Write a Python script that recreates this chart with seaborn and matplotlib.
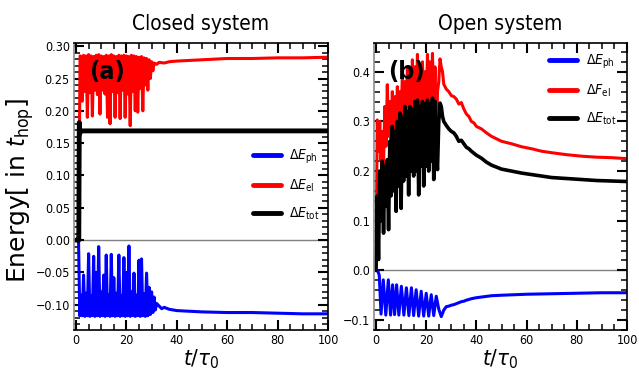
import numpy as np
import matplotlib
matplotlib.use("Agg")
import matplotlib.pyplot as plt
from matplotlib.ticker import MultipleLocator
import seaborn as sns

# ---- closed system (a) ----
closed_ph_t = [0.0, 1.0, 1.5, 2.0, 2.5, 3.0, 3.5, 4.0, 4.5, 5.0, 5.5, 6.0, 6.5, 7.0, 7.5, 8.0, 8.5,
               9.0, 9.5, 10.0, 10.5, 11.0, 11.5, 12.0, 12.5, 13.0, 13.5, 14.0, 14.5, 15.0, 15.5,
               16.0, 16.5, 17.0, 17.5, 18.0, 18.5, 19.0, 19.5, 20.0, 20.5, 21.0, 21.5, 22.0, 22.5,
               23.0, 23.5, 24.0, 24.5, 25.0, 25.5, 26.0, 26.5, 27.0, 27.5, 28.0, 28.5, 29.0, 29.5,
               30.0, 30.5, 31.0, 31.5, 32.0, 33.0, 34.0, 35.0, 37.0, 40.0, 45.0, 50.0, 60.0, 70.0,
               80.0, 90.0, 100.0]
closed_ph = [0.0, 0.0, -0.117, -0.085, -0.117, -0.054, -0.118, -0.082, -0.117, -0.021, -0.118,
             -0.086, -0.117, -0.025, -0.118, -0.050, -0.117, -0.010, -0.118, -0.080, -0.117,
             -0.054, -0.118, -0.023, -0.117, -0.084, -0.118, -0.022, -0.117, -0.058, -0.118,
             -0.082, -0.117, -0.023, -0.118, -0.086, -0.117, -0.027, -0.118, -0.050, -0.117,
             -0.009, -0.118, -0.080, -0.117, -0.051, -0.118, -0.085, -0.117, -0.031, -0.118,
             -0.029, -0.117, -0.083, -0.118, -0.051, -0.117, -0.073, -0.115, -0.080, -0.112,
             -0.088, -0.108, -0.098, -0.102, -0.106, -0.104, -0.107, -0.109, -0.110, -0.111,
             -0.112, -0.112, -0.113, -0.114, -0.114]

closed_el_t = [0.0, 1.0, 1.4, 1.6, 2.0, 2.5, 3.0, 3.5, 4.0, 4.5, 5.0, 5.5, 6.0, 6.5, 7.0, 7.5, 8.0,
               8.5, 9.0, 9.5, 10.0, 10.5, 11.0, 11.5, 12.0, 12.5, 13.0, 13.5, 14.0, 14.5, 15.0,
               15.5, 16.0, 16.5, 17.0, 17.5, 18.0, 18.5, 19.0, 19.5, 20.0, 20.5, 21.0, 21.5, 22.0,
               22.5, 23.0, 23.5, 24.0, 24.5, 25.0, 25.5, 26.0, 26.5, 27.0, 27.5, 28.0, 28.5, 29.0,
               29.5, 30.0, 30.5, 31.0, 32.0, 33.0, 35.0, 37.0, 40.0, 45.0, 50.0, 60.0, 70.0, 80.0,
               90.0, 100.0]
closed_el = [0.0, 0.0, 0.180, 0.285, 0.284, 0.215, 0.286, 0.230, 0.285, 0.190, 0.287, 0.228,
             0.285, 0.192, 0.284, 0.232, 0.286, 0.225, 0.287, 0.195, 0.285, 0.232, 0.284, 0.226,
             0.286, 0.190, 0.285, 0.180, 0.287, 0.230, 0.285, 0.190, 0.284, 0.228, 0.286, 0.188,
             0.285, 0.232, 0.286, 0.190, 0.285, 0.226, 0.284, 0.177, 0.286, 0.230, 0.285, 0.200,
             0.284, 0.198, 0.283, 0.235, 0.284, 0.200, 0.282, 0.240, 0.281, 0.232, 0.279, 0.250,
             0.276, 0.262, 0.274, 0.272, 0.275, 0.274, 0.276, 0.277, 0.278, 0.279, 0.281, 0.281,
             0.282, 0.282, 0.283]

closed_tot_t = [0.0, 1.1, 1.3, 1.5, 1.7, 100.0]
closed_tot = [0.0, 0.0, 0.182, 0.165, 0.169, 0.169]

# ---- open system (b) ----
open_ph_t = [0.0, 0.8, 1.3, 2.0, 2.9, 3.9, 4.9, 5.8, 6.6, 7.4, 8.2, 9.1, 10.1, 11.1, 12.1, 13.1,
             14.1, 15.0, 16.0, 17.0, 18.0, 19.0, 20.0, 21.0, 22.0, 23.0, 24.0, 25.0, 26.0, 27.0,
             28.0, 29.0, 30.0, 31.0, 32.0, 33.0, 34.0, 35.0, 36.0, 38.0, 40.0, 43.0, 46.0, 50.0,
             55.0, 60.0, 70.0, 80.0, 90.0, 100.0]
open_ph = [0.0, -0.002, -0.010, -0.088, -0.019, -0.090, -0.019, -0.090, -0.029, -0.089, -0.029,
           -0.090, -0.032, -0.090, -0.035, -0.091, -0.035, -0.091, -0.039, -0.092, -0.042,
           -0.092, -0.046, -0.092, -0.049, -0.091, -0.052, -0.078, -0.093, -0.080, -0.073,
           -0.072, -0.070, -0.069, -0.067, -0.065, -0.063, -0.062, -0.060, -0.057, -0.055,
           -0.053, -0.051, -0.050, -0.049, -0.048, -0.047, -0.046, -0.045, -0.045]

open_el_t = [0.0, 0.5, 1.0, 1.5, 2.0, 2.5, 3.0, 3.5, 4.0, 4.5, 5.0, 5.5, 6.0, 6.5, 7.0, 7.5, 8.0,
             8.5, 9.0, 9.5, 10.0, 10.5, 11.0, 11.5, 12.0, 12.5, 13.0, 13.5, 14.0, 14.5, 15.0,
             15.5, 16.0, 16.5, 17.0, 17.5, 18.0, 18.5, 19.0, 19.5, 20.0, 20.5, 21.0, 21.5, 22.0,
             22.5, 23.0, 23.5, 24.0, 24.5, 25.0, 25.5, 26.0, 26.5, 27.0, 28.0, 29.0, 30.0, 31.0,
             32.0, 33.0, 34.0, 35.0, 36.0, 37.0, 38.0, 39.0, 40.0, 42.0, 44.0, 46.0, 48.0, 50.0,
             54.0, 58.0, 62.0, 66.0, 70.0, 76.0, 82.0, 88.0, 94.0, 100.0]
open_el = [0.0, 0.303, 0.240, 0.300, 0.220, 0.280, 0.210, 0.330, 0.250, 0.374, 0.270, 0.340,
           0.260, 0.360, 0.270, 0.350, 0.280, 0.370, 0.290, 0.360, 0.290, 0.397, 0.300, 0.380,
           0.300, 0.410, 0.310, 0.400, 0.310, 0.424, 0.310, 0.410, 0.320, 0.435, 0.310, 0.400,
           0.320, 0.420, 0.320, 0.400, 0.330, 0.435, 0.310, 0.420, 0.330, 0.437, 0.300, 0.410,
           0.250, 0.360, 0.380, 0.426, 0.410, 0.400, 0.375, 0.365, 0.360, 0.352, 0.350, 0.345,
           0.335, 0.338, 0.325, 0.315, 0.310, 0.300, 0.297, 0.290, 0.285, 0.277, 0.270, 0.265,
           0.260, 0.255, 0.249, 0.245, 0.240, 0.237, 0.233, 0.230, 0.228, 0.227, 0.225]

open_tot_t = [0.0, 0.5, 1.0, 1.5, 2.0, 2.5, 3.0, 3.5, 4.0, 4.5, 5.0, 5.5, 6.0, 6.5, 7.0, 7.5, 8.0,
              8.5, 9.0, 9.5, 10.0, 10.5, 11.0, 11.5, 12.0, 12.5, 13.0, 13.5, 14.0, 14.5, 15.0,
              15.5, 16.0, 16.5, 17.0, 17.5, 18.0, 18.5, 19.0, 19.5, 20.0, 20.5, 21.0, 21.5, 22.0,
              22.5, 23.0, 23.5, 24.0, 24.5, 25.0, 25.5, 26.0, 26.5, 27.0, 28.0, 29.0, 30.0, 31.0,
              32.0, 33.0, 34.0, 35.0, 36.0, 37.0, 38.0, 39.0, 40.0, 42.0, 44.0, 46.0, 48.0, 50.0,
              54.0, 58.0, 62.0, 66.0, 70.0, 76.0, 82.0, 88.0, 94.0, 100.0]
open_tot = [0.0, 0.150, 0.022, 0.200, 0.100, 0.220, 0.075, 0.210, 0.130, 0.223, 0.082, 0.260,
            0.150, 0.290, 0.160, 0.280, 0.119, 0.300, 0.170, 0.317, 0.125, 0.310, 0.180, 0.330,
            0.190, 0.320, 0.152, 0.330, 0.200, 0.325, 0.190, 0.340, 0.200, 0.343, 0.152, 0.330,
            0.210, 0.340, 0.170, 0.335, 0.210, 0.343, 0.200, 0.335, 0.220, 0.347, 0.183, 0.340,
            0.230, 0.203, 0.300, 0.337, 0.330, 0.310, 0.300, 0.292, 0.285, 0.280, 0.277, 0.270,
            0.260, 0.262, 0.255, 0.248, 0.245, 0.240, 0.236, 0.232, 0.226, 0.218, 0.212, 0.208,
            0.204, 0.200, 0.196, 0.193, 0.190, 0.187, 0.185, 0.183, 0.181, 0.180, 0.179]

labels_closed = [r'$\Delta E_{\rm ph}$', r'$\Delta E_{\rm el}$', r'$\Delta E_{\rm tot}$']
labels_open = [r'$\Delta E_{\rm ph}$', r'$\Delta F_{\rm el}$', r'$\Delta E_{\rm tot}$']
colors = ['blue', 'red', 'black']


def style_axes(ax, ymaj, ymin):
    ax.xaxis.set_major_locator(MultipleLocator(20))
    ax.xaxis.set_minor_locator(MultipleLocator(5))
    ax.yaxis.set_major_locator(MultipleLocator(ymaj))
    ax.yaxis.set_minor_locator(MultipleLocator(ymin))
    ax.tick_params(which='both', direction='in', bottom=True, left=True, top=True, right=True,
                   labelsize=9, pad=3, colors='black')
    ax.tick_params(which='major', length=7, width=1.5)
    ax.tick_params(which='minor', length=4, width=1.1)
    for s in ax.spines.values():
        s.set_color('black')
        s.set_linewidth(1.2)
    ax.spines['left'].set_color('0.55')
    ax.axhline(0, color='0.5', lw=1, zorder=0)
    ax.set_xlabel(r'$t/\tau_0$', fontsize=16, labelpad=0)
    ax.set_ylabel('')


sns.set_theme(style="ticks", rc={'xtick.direction': 'in', 'ytick.direction': 'in'})
plt.rcParams['font.family'] = ['DejaVu Sans']
plt.rcParams['font.stretch'] = 'condensed'
plt.rcParams['mathtext.fontset'] = 'dejavusans'
plt.rcParams['text.color'] = 'black'
plt.rcParams['axes.labelcolor'] = 'black'

fig = plt.figure(figsize=(6.39, 3.8), dpi=100)
ax1 = fig.add_axes([0.1158, 0.1316, 0.3975, 0.7553])
ax2 = fig.add_axes([0.5853, 0.1316, 0.3959, 0.7553])

# panel (a)
sns.lineplot(x=closed_ph_t, y=closed_ph, ax=ax1, color=colors[0], lw=2.2, label=labels_closed[0],
             sort=False, estimator=None)
sns.lineplot(x=closed_el_t, y=closed_el, ax=ax1, color=colors[1], lw=2.2, label=labels_closed[1],
             sort=False, estimator=None)
sns.lineplot(x=closed_tot_t, y=closed_tot, ax=ax1, color=colors[2], lw=3.5, label=labels_closed[2],
             sort=False, estimator=None)
ax1.set_xlim(-0.8, 100)
ax1.set_ylim(-0.139, 0.305)
style_axes(ax1, 0.05, 0.01)
ax1.set_title('Closed system', fontsize=15, pad=9)
ax1.text(0.13, 0.90, '(a)', transform=ax1.transAxes, fontsize=18, fontweight='bold',
         ha='center', va='center')
leg1 = ax1.legend(loc='center right', bbox_to_anchor=(1.0, 0.505), frameon=False, fontsize=10,
                  handlelength=2.0, labelspacing=0.85, handletextpad=0.6, borderaxespad=0.2)
for line in leg1.get_lines():
    line.set_linewidth(3.5)

# panel (b)
sns.lineplot(x=open_ph_t, y=open_ph, ax=ax2, color=colors[0], lw=2.2, label=labels_open[0],
             sort=False, estimator=None)
sns.lineplot(x=open_el_t, y=open_el, ax=ax2, color=colors[1], lw=2.2, label=labels_open[1],
             sort=False, estimator=None)
sns.lineplot(x=open_tot_t, y=open_tot, ax=ax2, color=colors[2], lw=2.6, label=labels_open[2],
             sort=False, estimator=None)
ax2.set_xlim(-0.8, 100)
ax2.set_ylim(-0.12, 0.458)
style_axes(ax2, 0.1, 0.02)
ax2.set_title('Open system', fontsize=15, pad=9)
ax2.text(0.13, 0.90, '(b)', transform=ax2.transAxes, fontsize=18, fontweight='bold',
         ha='center', va='center')
leg2 = ax2.legend(loc='center right', bbox_to_anchor=(0.99, 0.836), frameon=False, fontsize=10,
                  handlelength=2.0, labelspacing=0.85, handletextpad=0.6, borderaxespad=0.2)
for line in leg2.get_lines():
    line.set_linewidth(3.5)

fig.text(0.032, 0.50, r'Energy[ in $t_{\rm hop}$]', rotation=90, fontsize=18,
         ha='center', va='center', fontstretch='normal')

fig.savefig('out.png', dpi=100)
